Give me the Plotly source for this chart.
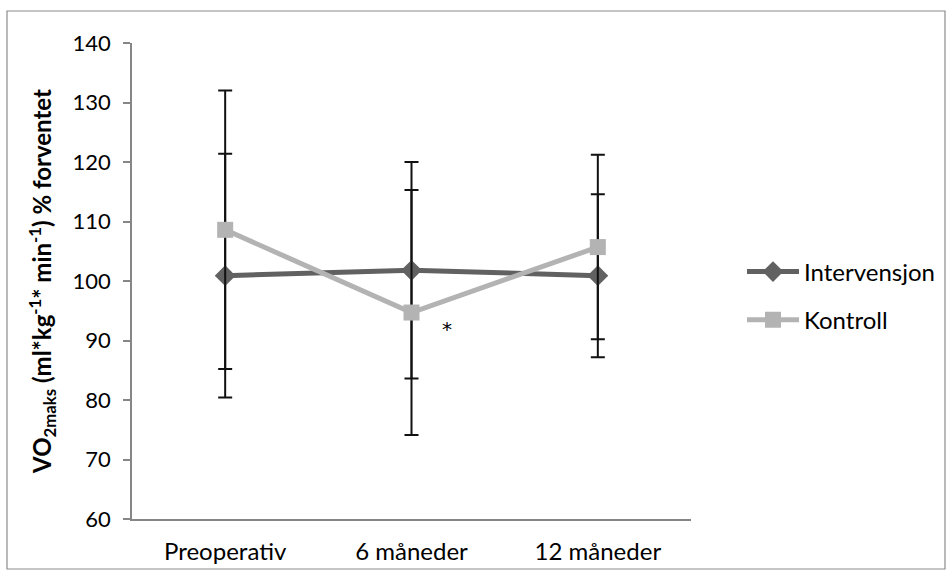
import plotly.graph_objects as go

# Data
categories = ["Preoperativ", "6 måneder", "12 måneder"]
intervensjon = [100.9, 101.8, 100.9]
intervensjon_sd = [20.5, 18.2, 13.7]
kontroll = [108.6, 94.7, 105.7]
kontroll_sd = [23.4, 20.6, 15.5]

W, H = 952, 576
L, R, T, B = 132, 261, 43, 57
FONT = "Lato"

fig = go.Figure()

fig.add_trace(go.Scatter(
    x=categories, y=intervensjon, name="Intervensjon", mode="lines+markers",
    legendgroup="i",
    line=dict(color="#616161", width=5),
    marker=dict(symbol="diamond", size=16, color="#616161"),
    error_y=dict(type="data", array=intervensjon_sd, visible=True,
                 color="#111111", thickness=2, width=7),
))
fig.add_trace(go.Scatter(
    x=categories, y=kontroll, name="Kontroll", mode="lines+markers",
    legendgroup="k",
    line=dict(color="#b3b3b3", width=5),
    marker=dict(symbol="square", size=16, color="#b3b3b3"),
    error_y=dict(type="data", array=kontroll_sd, visible=True,
                 color="#111111", thickness=2, width=7),
))

# significance marker next to the 6-month control value
fig.add_annotation(x="6 måneder", y=92.0, text="*", showarrow=False,
                   xshift=35, font=dict(family="DejaVu Sans", size=20, color="#000"))

pw = W - L - R
ph = H - T - B
# chart border around the whole figure
fig.add_shape(type="rect", xref="paper", yref="paper",
              x0=(7 - L) / pw, x1=(945 - L) / pw,
              y0=(H - B - 569) / ph, y1=(H - B - 11) / ph,
              line=dict(color="#8c8c8c", width=1.2), layer="below")

fig.update_layout(
    width=W, height=H,
    margin=dict(l=L, r=R, t=T, b=B),
    paper_bgcolor="white", plot_bgcolor="white",
    font=dict(family=FONT, size=22, color="#000"),
    showlegend=True,
    legend=dict(x=(742 - L) / pw, y=(H - B - 296) / ph, xanchor="left", yanchor="middle",
                font=dict(family=FONT, size=24, color="#000"),
                traceorder="grouped", tracegroupgap=14, itemwidth=52,
                bgcolor="rgba(0,0,0,0)"),
    xaxis=dict(type="category", range=[-0.5, 2.5], showline=True, linecolor="#868686",
               linewidth=1.5, ticks="", showgrid=False, zeroline=False,
               tickfont=dict(family=FONT, size=24), ticklabelstandoff=10),
    yaxis=dict(range=[60, 140], dtick=10, showline=True, linecolor="#868686", linewidth=1.5,
               ticks="outside", ticklen=7, tickcolor="#868686", tickwidth=1.5,
               showgrid=False, zeroline=False, ticklabelstandoff=8,
               tickfont=dict(family=FONT, size=22),
               title=dict(text="<b>VO<sub>2maks</sub> (ml*kg<sup>-1</sup>* min<sup>-1</sup>) % forventet</b>",
                          font=dict(family=FONT, size=24), standoff=14)),
)

fig.write_html("out.html")
